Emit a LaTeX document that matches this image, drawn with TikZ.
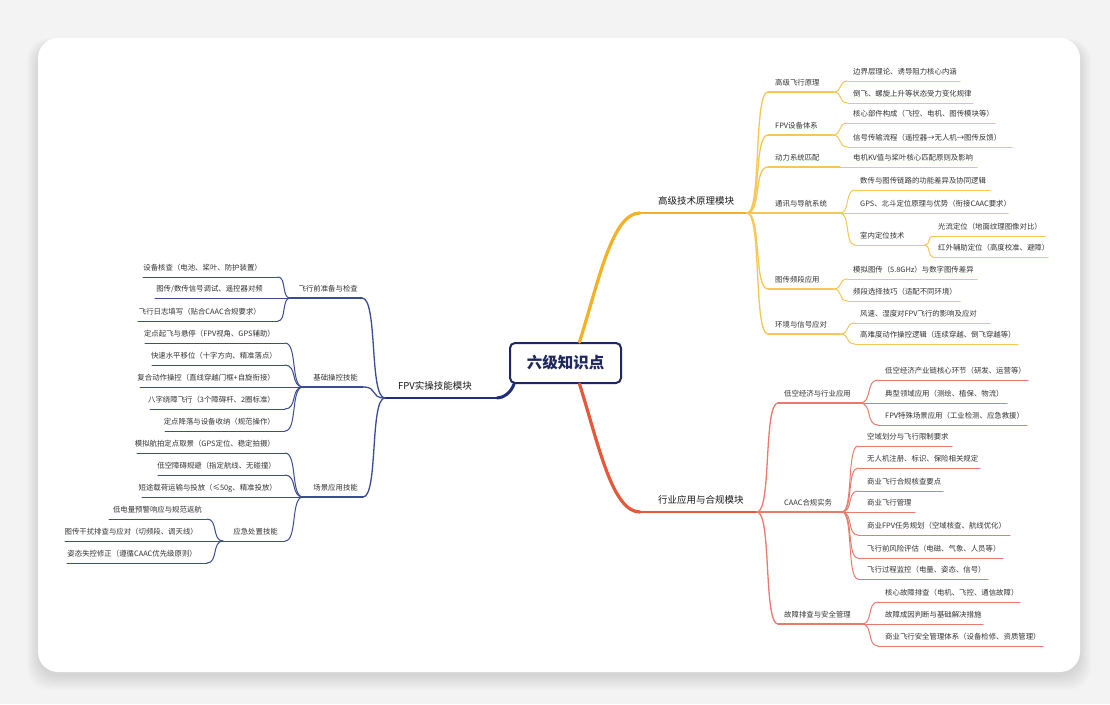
\documentclass[tikz,border=0pt]{standalone}
\usepackage{fontspec}
\setmainfont{Noto Sans CJK SC}
\usetikzlibrary{calc}

\definecolor{pagebg}{HTML}{F3F3F3}
\definecolor{rootnavy}{HTML}{1E2760}
\definecolor{Ymain}{HTML}{F5B123}
\definecolor{Ysub}{HTML}{F7C655}
\definecolor{Rmain}{HTML}{E5583A}
\definecolor{Rsub}{HTML}{EA7A6C}
\definecolor{Nmain}{HTML}{1F2E7A}
\definecolor{Nsub}{HTML}{3A4C94}
\definecolor{labelgray}{HTML}{333333}
\definecolor{maintext}{HTML}{1A1A1A}

\tikzset{
  lbl/.style={inner sep=0pt, font=\fontsize{7.4}{8}\selectfont, text=labelgray},
  mainlbl/.style={inner sep=0pt, font=\fontsize{9.5}{11}\selectfont, text=maintext},
  rootbox/.style={draw=rootnavy, line width=2pt, rounded corners=5pt, fill=white,
    minimum width=111pt, minimum height=40pt, inner sep=0pt,
    font=\fontsize{15.5}{18}\selectfont\bfseries, text=rootnavy},
  subY/.style={draw=Ysub, line width=1.3pt},
  leafY/.style={draw=Ysub, line width=1pt},
  subR/.style={draw=Rsub, line width=1.3pt},
  leafR/.style={draw=Rsub, line width=1pt},
  subN/.style={draw=Nsub, line width=1.3pt},
  leafN/.style={draw=Nsub, line width=1pt},
}

% topic on the right: underline from left end to right end, label left-aligned
% #1 line style, #2 name, #3 left x, #4 right x, #5 y, #6 label x, #7 label
\newcommand\topicR[7][]{%
  \coordinate (#2-l) at (#3,#5);
  \coordinate (#2-r) at (#4,#5);
  \draw[#1] (#2-l) -- (#2-r);
  \node[lbl, anchor=base west, yshift=6.2pt] (#2) at (#6,#5) {#7};}
% topic on the left: same, label right-aligned
\newcommand\topicL[7][]{%
  \coordinate (#2-l) at (#3,#5);
  \coordinate (#2-r) at (#4,#5);
  \draw[#1] (#2-l) -- (#2-r);
  \node[lbl, anchor=base east, yshift=6.2pt] (#2) at (#6,#5) {#7};}
% curved branch between two attachment points
\newcommand\conn[3][]{\draw[#1] let \p1=(#2), \p2=(#3) in
  (\p1) .. controls ({0.3*\x1+0.7*\x2},\y1) and ({0.7*\x1+0.3*\x2},\y2) .. (\p2);}

\begin{document}
\begin{tikzpicture}[x=1pt, y=-1pt, line cap=round]
\useasboundingbox (0,0) rectangle (1110,704);
\fill[pagebg] (0,0) rectangle (1110,704);

% card with soft shadow
\foreach \i in {0,...,14}
  \fill[black, opacity=0.008, rounded corners=22pt]
    ({38-0.8*\i},{44-0.4*\i}) rectangle ({1080+0.8*\i},{676+\i});
\fill[white, rounded corners=20pt] (38,38) rectangle (1080,672);

% central topic
\node[rootbox] (root) at (565.5,363) {六级知识点};

% ---- main branch: 高级技术原理模块 ----
\coordinate (M1-l) at (640,213);
\coordinate (M1-r) at (747,213);
\draw[Ymain, line width=2.2pt] (M1-l) -- (M1-r);
\draw[Ymain, line width=3.2pt] ([xshift=14pt]root.north) .. controls +(19,-60) and +(-28,0) .. (M1-l);
\node[mainlbl, anchor=base west, yshift=8.4pt] (M1) at (658,213) {高级技术原理模块};

% ---- main branch: 行业应用与合规模块 ----
\coordinate (M2-l) at (640,512);
\coordinate (M2-r) at (757,512);
\draw[Rmain, line width=2.2pt] (M2-l) -- (M2-r);
\draw[Rmain, line width=3.2pt] ([xshift=14pt]root.south) .. controls +(19,60) and +(-28,0) .. (M2-l);
\node[mainlbl, anchor=base west, yshift=8.4pt] (M2) at (658,512) {行业应用与合规模块};

% ---- main branch: FPV实操技能模块 ----
\coordinate (M3-l) at (385,398);
\coordinate (M3-r) at (497,398);
\draw[Nmain, line width=2.2pt] (M3-l) -- (M3-r);
\draw[Nmain, line width=3pt] ([xshift=5pt]root.south west) .. controls +(-3,9) and +(6,0) .. (M3-r);
\node[mainlbl, anchor=base west, yshift=8.4pt] (M3) at (398,398) {FPV实操技能模块};

% ---- yellow subtopics ----
\topicR[subY]{A1}{768}{833}{92}{775}{高级飞行原理}
\topicR[subY]{A2}{768}{832}{135}{775}{FPV设备体系}
\topicR[subY]{A3}{768}{840}{167}{775}{动力系统匹配}
\topicR[subY]{A4}{768}{840}{213}{775}{通讯与导航系统}
\topicR[subY]{A5}{768}{833}{289}{775}{图传频段应用}
\topicR[subY]{A6}{768}{840}{334}{775}{环境与信号应对}
\foreach \t in {A1,A2,A3,A4,A5,A6} {\conn[subY]{M1-r}{\t-l}}

\topicR[leafY]{A11}{848}{960}{81}{853}{边界层理论、诱导阻力核心内涵}
\topicR[leafY]{A12}{848}{973}{103}{853}{倒飞、螺旋上升等状态受力变化规律}
\conn[leafY]{A1-r}{A11-l}\conn[leafY]{A1-r}{A12-l}
\topicR[leafY]{A21}{848}{995}{123}{853}{核心部件构成（飞控、电机、图传模块等）}
\topicR[leafY]{A22}{848}{1012}{147}{853}{信号传输流程（遥控器→无人机→图传反馈）}
\conn[leafY]{A2-r}{A21-l}\conn[leafY]{A2-r}{A22-l}
\topicR[leafY]{A31}{840}{977}{167}{853}{电机KV值与桨叶核心匹配原则及影响}
\topicR[leafY]{A41}{855}{990}{190}{860}{数传与图传链路的功能差异及协同逻辑}
\topicR[leafY]{A42}{840}{1008}{213}{860}{GPS、北斗定位原理与优势（衔接CAAC要求）}
\topicR[leafY]{A43}{855}{925}{245}{860}{室内定位技术}
\conn[leafY]{A4-r}{A41-l}\conn[leafY]{A4-r}{A43-l}
\topicR[leafY]{A431}{933}{1045}{236}{938}{光流定位（地面纹理图像对比）}
\topicR[leafY]{A432}{933}{1048}{257}{938}{红外辅助定位（高度校准、避障）}
\conn[leafY]{A43-r}{A431-l}\conn[leafY]{A43-r}{A432-l}
\topicR[leafY]{A51}{848}{977}{279}{853}{模拟图传（5.8GHz）与数字图传差异}
\topicR[leafY]{A52}{848}{960}{301}{853}{频段选择技巧（适配不同环境）}
\conn[leafY]{A5-r}{A51-l}\conn[leafY]{A5-r}{A52-l}
\topicR[leafY]{A61}{855}{990}{323}{860}{风速、湿度对FPV飞行的影响及应对}
\topicR[leafY]{A62}{855}{1018}{344}{860}{高难度动作操控逻辑（连续穿越、倒飞穿越等）}
\conn[leafY]{A6-r}{A61-l}\conn[leafY]{A6-r}{A62-l}

% ---- red subtopics ----
\topicR[subR]{B1}{778}{860}{403}{784}{低空经济与行业应用}
\topicR[subR]{B2}{778}{842}{512}{784}{CAAC合规实务}
\topicR[subR]{B3}{778}{862}{624}{784}{故障排查与安全管理}
\foreach \t in {B1,B2,B3} {\conn[subR]{M2-r}{\t-l}}

\topicR[leafR]{B11}{878}{1028}{380}{885}{低空经济产业链核心环节（研发、运营等）}
\topicR[leafR]{B12}{860}{1007}{403}{885}{典型领域应用（测绘、植保、物流）}
\topicR[leafR]{B13}{878}{1027}{425}{885}{FPV特殊场景应用（工业检测、应急救援）}
\conn[leafR]{B1-r}{B11-l}\conn[leafR]{B1-r}{B13-l}
\topicR[leafR]{B21}{858}{952}{446}{867}{空域划分与飞行限制要求}
\topicR[leafR]{B22}{858}{980}{468}{867}{无人机注册、标识、保险相关规定}
\topicR[leafR]{B23}{858}{943}{491}{867}{商业飞行合规核查要点}
\topicR[leafR]{B24}{842}{915}{512}{867}{商业飞行管理}
\topicR[leafR]{B25}{858}{1010}{535}{867}{商业FPV任务规划（空域核查、航线优化）}
\topicR[leafR]{B26}{858}{1003}{558}{867}{飞行前风险评估（电磁、气象、人员等）}
\topicR[leafR]{B27}{858}{988}{579}{867}{飞行过程监控（电量、姿态、信号）}
\foreach \t in {B21,B22,B23,B25,B26,B27} {\conn[leafR]{B2-r}{\t-l}}
\topicR[leafR]{B31}{878}{1020}{602}{885}{核心故障排查（电机、飞控、通信故障）}
\topicR[leafR]{B32}{862}{983}{624}{885}{故障成因判断与基础解决措施}
\topicR[leafR]{B33}{878}{1043}{646}{885}{商业飞行安全管理体系（设备检修、资质管理）}
\conn[leafR]{B3-r}{B31-l}\conn[leafR]{B3-r}{B33-l}

% ---- navy subtopics (left side) ----
\topicL[subN]{C1}{290}{362}{298}{358}{飞行前准备与检查}
\topicL[subN]{C2}{303}{363}{387}{358}{基础操控技能}
\topicL[subN]{C3}{303}{363}{497}{358}{场景应用技能}
\foreach \t in {C1,C2,C3} {\conn[subN]{M3-l}{\t-r}}

\topicL[leafN]{C11}{143}{278}{277}{262}{设备核查（电池、桨叶、防护装置）}
\topicL[leafN]{C12}{155}{290}{298}{263}{图传/数传信号调试、遥控器对频}
\topicL[leafN]{C13}{138}{278}{321}{261}{飞行日志填写（贴合CAAC合规要求）}
\conn[leafN]{C1-l}{C11-r}\conn[leafN]{C1-l}{C13-r}
\topicL[leafN]{C21}{145}{285}{343}{275}{定点起飞与悬停（FPV视角、GPS辅助）}
\topicL[leafN]{C22}{152}{285}{365}{277}{快速水平移位（十字方向、精准落点）}
\topicL[leafN]{C23}{140}{303}{387}{275}{复合动作操控（直线穿越门框+自旋衔接）}
\topicL[leafN]{C24}{150}{285}{409}{275}{八字绕障飞行（3个障碍杆、2圈标准）}
\topicL[leafN]{C25}{165}{285}{431}{275}{定点降落与设备收纳（规范操作）}
\foreach \t in {C21,C22,C24,C25} {\conn[leafN]{C2-l}{\t-r}}
\topicL[leafN]{C31}{137}{285}{453}{275}{模拟航拍定点取景（GPS定位、稳定拍摄）}
\topicL[leafN]{C32}{158}{285}{475}{276}{低空障碍规避（指定航线、无碰撞）}
\topicL[leafN]{C33}{142}{303}{497}{277}{短途载荷运输与投放（≤50g、精准投放）}
\topicL[leafN]{C34}{223}{285}{541}{278}{应急处置技能}
\foreach \t in {C31,C32,C34} {\conn[leafN]{C3-l}{\t-r}}
\topicL[leafN]{C341}{109}{207}{519}{202}{低电量预警响应与规范返航}
\topicL[leafN]{C342}{65}{223}{541}{198}{图传干扰排查与应对（切频段、调天线）}
\topicL[leafN]{C343}{67}{207}{563}{197}{姿态失控修正（遵循CAAC优先级原则）}
\conn[leafN]{C34-l}{C341-r}\conn[leafN]{C34-l}{C343-r}
\end{tikzpicture}
\end{document}
